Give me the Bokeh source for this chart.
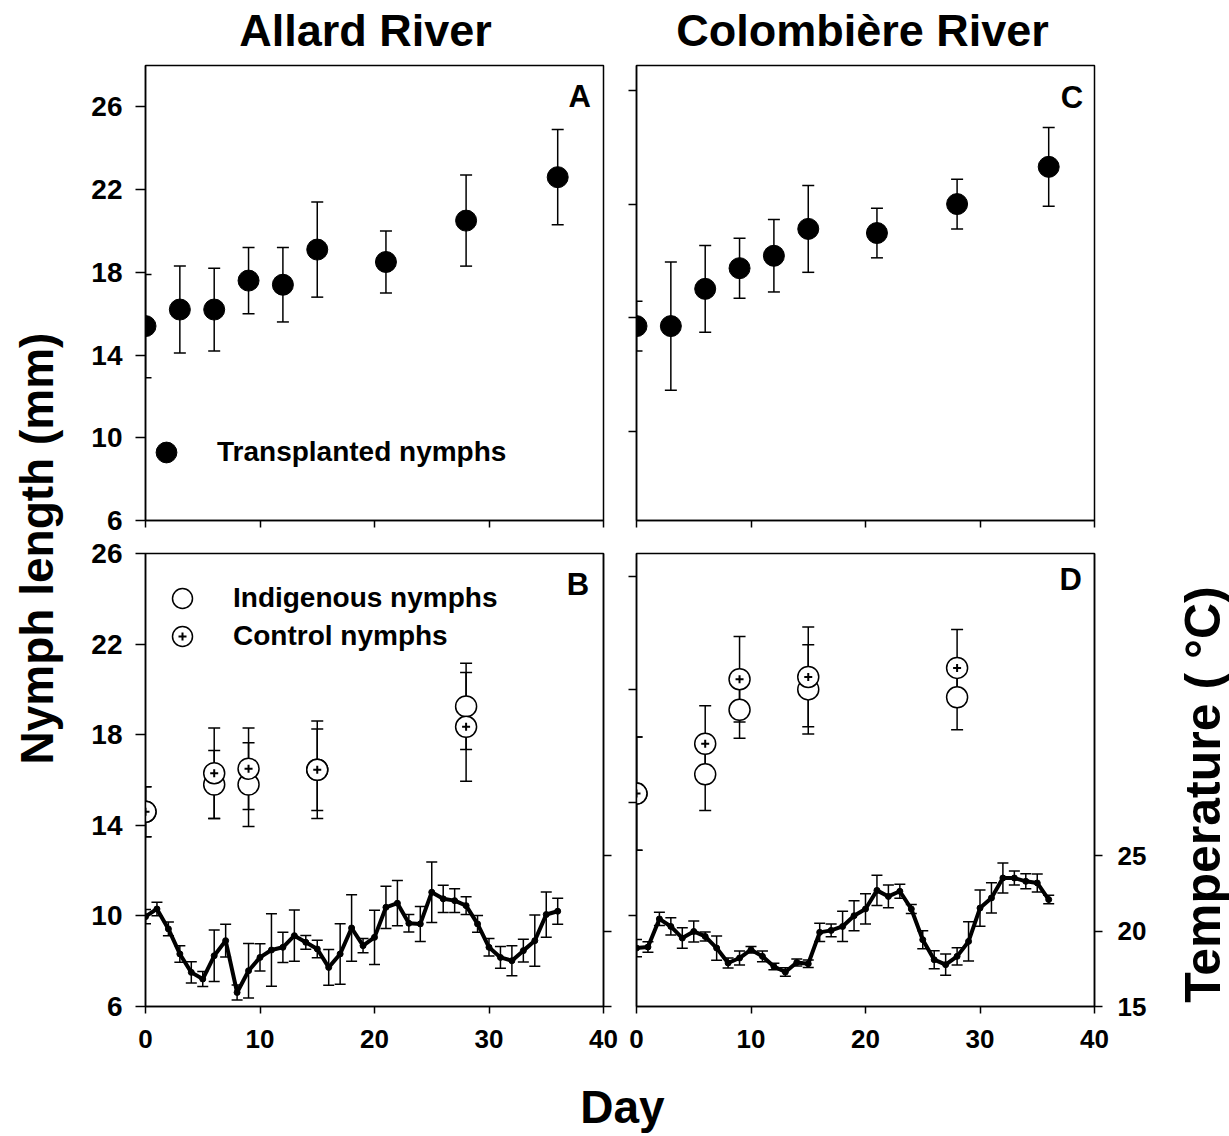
import numpy as np
from math import pi
from bokeh.plotting import figure
from bokeh.models import Range1d, LinearAxis, FixedTicker, Legend, LegendItem, Label
from bokeh.layouts import row, column
from bokeh.embed import file_html
from bokeh.resources import INLINE

FONT = "Liberation Sans"

# ---------------- data ----------------
# Transplanted nymphs (panels A and C)
trans_days = [0, 3, 6, 9, 12, 15, 21, 28, 36]
allard_trans = [15.4, 16.2, 16.2, 17.6, 17.4, 19.1, 18.5, 20.5, 22.6]
allard_trans_err = [2.5, 2.1, 2.0, 1.6, 1.8, 2.3, 1.5, 2.2, 2.3]
colomb_trans = [15.4, 15.4, 17.2, 18.2, 18.8, 20.1, 19.9, 21.3, 23.1]
colomb_trans_err = [1.2, 3.1, 2.1, 1.45, 1.75, 2.1, 1.2, 1.2, 1.9]

# Indigenous and control nymphs (panels B and D)
samp_days = [0, 6, 9, 15, 28]
allard_indig = [14.6, 15.8, 15.8, 16.45, 19.25]
allard_indig_err = [1.1, 1.5, 1.85, 1.8, 1.9]
allard_ctrl = [14.6, 16.3, 16.5, 16.45, 18.35]
allard_ctrl_err = [1.1, 2.0, 1.8, 2.15, 2.4]
colomb_indig = [15.4, 16.25, 19.1, 20.0, 19.65]
colomb_indig_err = [2.5, 1.6, 1.26, 1.97, 1.43]
colomb_ctrl = [15.4, 17.6, 20.45, 20.55, 20.95]
colomb_ctrl_err = [2.5, 1.68, 1.89, 2.2, 1.69]

# Daily temperature (deg C)
temp_days = list(range(0, 37))
allard_temp = [20.95, 21.46, 20.14, 18.48, 17.26, 16.82, 18.36, 19.36, 15.93, 17.37,
               18.25, 18.74, 18.92, 19.69, 19.25, 18.81, 17.59, 18.48, 20.2, 19.03,
               19.58, 21.57, 21.84, 20.51, 20.47, 22.57, 22.13, 22.01, 21.68, 20.47,
               18.92, 18.25, 18.03, 18.7, 19.36, 21.09, 21.31]
allard_temp_err = [0.47, 0.45, 0.46, 0.55, 0.7, 0.5, 1.7, 1.08, 0.5, 1.8,
                   0.9, 2.4, 1.0, 1.7, 0.46, 0.58, 1.18, 2.0, 2.2, 0.47,
                   1.8, 1.4, 1.5, 0.58, 1.16, 2.0, 0.9, 0.78, 0.58, 0.55,
                   0.58, 0.72, 1.0, 0.75, 1.7, 1.5, 0.86]
colomb_temp = [18.87, 18.94, 20.8, 20.3, 19.53, 19.97, 19.64, 18.87, 17.88, 18.21,
               18.76, 18.32, 17.65, 17.28, 17.92, 17.83, 19.91, 20.04, 20.3, 21.01,
               21.46, 22.69, 22.29, 22.63, 21.46, 19.42, 18.1, 17.77, 18.32, 19.31,
               21.52, 22.19, 23.51, 23.51, 23.29, 23.18, 22.08]
colomb_temp_err = [0.57, 0.35, 0.44, 0.57, 0.68, 0.7, 0.3, 0.8, 0.33, 0.46,
                   0.22, 0.36, 0.22, 0.28, 0.23, 0.25, 0.6, 0.42, 1.0, 1.0,
                   1.0, 1.0, 0.75, 0.46, 0.3, 0.6, 0.6, 0.7, 0.57, 1.3,
                   1.2, 1.0, 1.0, 0.46, 0.5, 0.6, 0.28]

day_ticks = [0, 10, 20, 30, 40]
length_ticks = [6, 10, 14, 18, 22, 26]
temp_ticks = [15, 20, 25]
c_left_ticks = [10.3, 15.8, 21.3, 26.8]
d_left_ticks = [10, 15, 20, 25]

# ---------------- helpers ----------------
def panel(width, height, bl, br, bt, bb, y0, y1):
    p = figure(width=width, height=height, x_range=Range1d(0, 40), y_range=Range1d(y0, y1),
               output_backend="svg", toolbar_location=None,
               x_axis_type=None, y_axis_type=None,
               min_border_left=bl, min_border_right=br,
               min_border_top=bt, min_border_bottom=bb)
    p.outline_line_color = "black"
    p.outline_line_width = 1.5
    p.background_fill_color = "white"
    p.border_fill_color = "white"
    return p


def add_axis(p, side, ticks, labeled, font_size="26px", standoff=12, tick_len=8,
             y_range_name=None):
    kw = {}
    if y_range_name:
        kw["y_range_name"] = y_range_name
    ax = LinearAxis(**kw)
    ax.axis_line_color = "black"
    ax.axis_line_width = 1.5
    if labeled:
        ax.ticker = FixedTicker(ticks=ticks)
        ax.major_tick_out = tick_len
        ax.major_tick_in = 0
        ax.major_tick_line_width = 1.5
        ax.major_tick_line_color = "black"
        ax.minor_tick_line_color = None
        ax.major_label_text_font = FONT
        ax.major_label_text_font_style = "bold"
        ax.major_label_text_font_size = font_size
        ax.major_label_text_color = "black"
        ax.major_label_standoff = standoff
    else:
        ax.ticker = FixedTicker(ticks=[], minor_ticks=ticks)
        ax.major_tick_out = 0
        ax.major_tick_in = 0
        ax.minor_tick_out = tick_len
        ax.minor_tick_in = 0
        ax.minor_tick_line_width = 1.5
        ax.minor_tick_line_color = "black"
        ax.major_label_standoff = 0
    p.add_layout(ax, side)
    return ax


def errorbars(p, x, y, err, cap=12, width=1.5, **kw):
    y = np.asarray(y, dtype=float)
    e = np.asarray(err, dtype=float)
    p.segment(x0=x, y0=y - e, x1=x, y1=y + e, line_color="black", line_width=width, **kw)
    p.scatter(x=x, y=y + e, marker="dash", size=cap, line_color="black", line_width=width, **kw)
    p.scatter(x=x, y=y - e, marker="dash", size=cap, line_color="black", line_width=width, **kw)


def letter(p, txt, x, y):
    p.add_layout(Label(x=x, y=y, text=txt, text_font=FONT, text_font_style="bold",
                       text_font_size="31px", text_align="right",
                       text_baseline="middle", text_color="black"))


def legend(p, renderer, text, loc, box, standoff):
    lg = Legend(items=[LegendItem(label=text, renderers=[renderer])], location=loc,
                glyph_width=box, glyph_height=box, label_standoff=standoff,
                padding=0, margin=0, spacing=0, border_line_color=None,
                background_fill_alpha=0, label_text_font=FONT,
                label_text_font_style="bold", label_text_font_size="28px",
                label_text_color="black", label_height=box)
    p.add_layout(lg, "center")
    return lg


def temperature(p, days, temp, err):
    errorbars(p, days, temp, err, cap=11, width=1.5, y_range_name="temp")
    p.line(days, temp, line_color="black", line_width=4, y_range_name="temp")
    p.scatter(days, temp, size=6, marker="circle", fill_color="black", line_color="black",
              y_range_name="temp")


def nymphs(p, days, indig, indig_err, ctrl, ctrl_err):
    errorbars(p, days, indig, indig_err)
    errorbars(p, days, ctrl, ctrl_err)
    r_i = p.scatter(days, indig, marker="circle", size=21, fill_color="white",
                    line_color="black", line_width=1.5)
    r_c = p.scatter(days, ctrl, marker="circle", size=21, fill_color="white",
                    line_color="black", line_width=1.5)
    r_x = p.scatter(days, ctrl, marker="cross", size=8, line_color="black", line_width=2)
    return r_i, r_c, r_x


def text_strip(w, h):
    p = figure(width=w, height=h, x_range=Range1d(0, w), y_range=Range1d(0, h),
               output_backend="svg", toolbar_location=None,
               x_axis_type=None, y_axis_type=None, min_border=0)
    p.outline_line_color = None
    p.background_fill_color = "white"
    p.border_fill_color = "white"
    return p


def strip_text(p, x, y, text, size, angle=0.0):
    p.add_layout(Label(x=x, y=y, text=text, angle=angle, text_font=FONT,
                       text_font_style="bold", text_font_size=size,
                       text_align="center", text_baseline="middle", text_color="black"))


# ---------------- panel A ----------------
pA = panel(543, 472, 70, 15, 2, 15, 6, 28)
add_axis(pA, "left", length_ticks, True, font_size="28px", standoff=13, tick_len=10)
add_axis(pA, "below", day_ticks, False, tick_len=7)
errorbars(pA, trans_days, allard_trans, allard_trans_err)
rA = pA.scatter(trans_days, allard_trans, marker="circle", size=21,
                fill_color="black", line_color="black")
letter(pA, "A", 38.9, 26.5)
legend(pA, rA, "Transplanted nymphs", (-5, 42), 52, 25)

# ---------------- panel C ----------------
pC = panel(542, 472, 18, 66, 2, 15, 6, 28)
add_axis(pC, "left", c_left_ticks, False, tick_len=8)
add_axis(pC, "below", day_ticks, False, tick_len=7)
errorbars(pC, trans_days, colomb_trans, colomb_trans_err)
pC.scatter(trans_days, colomb_trans, marker="circle", size=21,
           fill_color="black", line_color="black")
letter(pC, "C", 39.0, 26.43)

# ---------------- panel B ----------------
pB = panel(543, 541, 70, 15, 18, 70, 6, 26)
pB.extra_y_ranges = {"temp": Range1d(15, 45)}
add_axis(pB, "left", length_ticks, True, font_size="28px", standoff=13, tick_len=10)
add_axis(pB, "below", day_ticks, True, font_size="26px", standoff=16, tick_len=7)
add_axis(pB, "right", temp_ticks, False, tick_len=8, y_range_name="temp")
temperature(pB, temp_days, allard_temp, allard_temp_err)
bi, bc, bx = nymphs(pB, samp_days, allard_indig, allard_indig_err, allard_ctrl, allard_ctrl_err)
letter(pB, "B", 38.75, 24.63)
legend(pB, bi, "Indigenous nymphs", (12, 383), 50, 26)
legend(pB, bc, "Control nymphs", (12, 345), 50, 26)
legend(pB, bx, "", (27, 360), 20, 0)

# ---------------- panel D ----------------
pD = panel(542, 541, 18, 66, 18, 70, 6, 26)
pD.extra_y_ranges = {"temp": Range1d(15, 45)}
add_axis(pD, "left", d_left_ticks, False, tick_len=8)
add_axis(pD, "below", day_ticks, True, font_size="26px", standoff=16, tick_len=7)
add_axis(pD, "right", temp_ticks, True, font_size="26px", standoff=15, tick_len=8,
         y_range_name="temp")
temperature(pD, temp_days, colomb_temp, colomb_temp_err)
nymphs(pD, samp_days, colomb_indig, colomb_indig_err, colomb_ctrl, colomb_ctrl_err)
letter(pD, "D", 38.9, 24.85)

# ---------------- text strips ----------------
pTitle = text_strip(1085, 63)
strip_text(pTitle, 290, 33, "Allard River", "45px")
strip_text(pTitle, 787, 33, "Colombière River", "45px")

pY = text_strip(75, 1136)
strip_text(pY, 36, 588, "Nymph length (mm)", "46px", angle=pi / 2)

pT = text_strip(69, 1136)
strip_text(pT, 42, 342, "Temperature ( °C)", "50px", angle=pi / 2)

pX = text_strip(1085, 60)
strip_text(pX, 547, 30, "Day", "46px")

layout = row(pY, column(pTitle, row(pA, pC), row(pB, pD), pX), pT)

open("out.html", "w").write(file_html(layout, INLINE))
